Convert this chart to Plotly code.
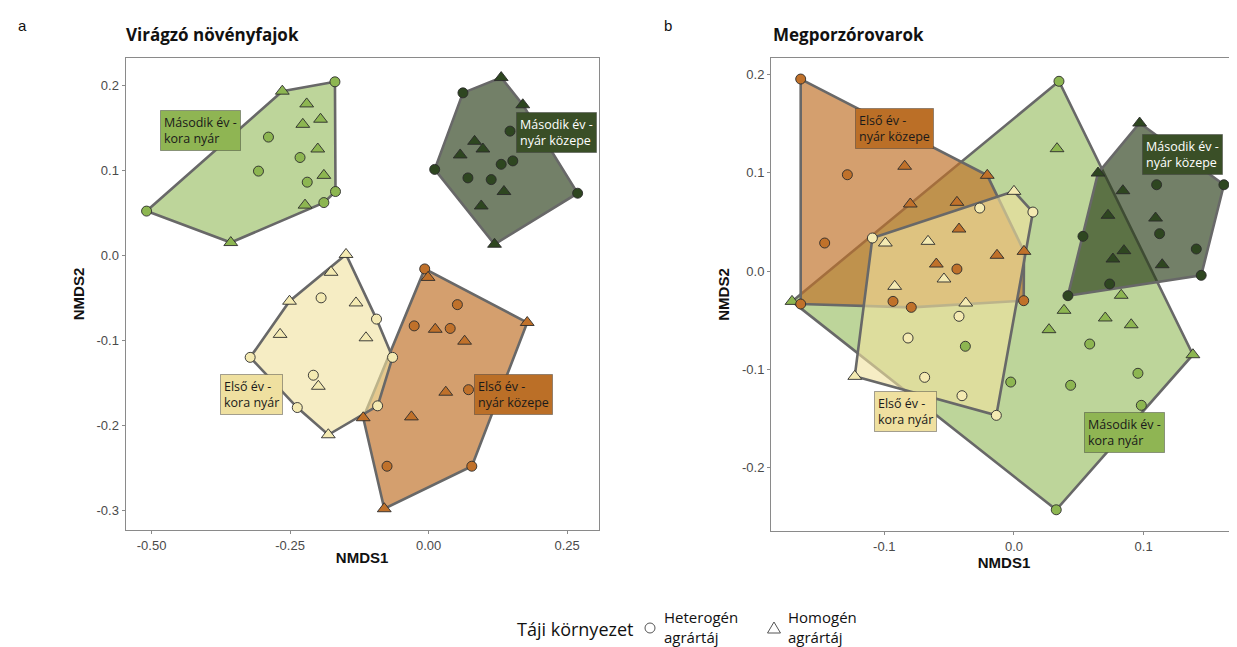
import plotly.graph_objects as go

# ---------------- data ----------------
# Panel a: Virágzó növényfajok
A_M2KN_HET_X = [-0.169, -0.509, -0.168, -0.189, -0.289, -0.307, -0.232, -0.219]
A_M2KN_HET_Y = [0.204, 0.052, 0.075, 0.062, 0.139, 0.099, 0.115, 0.086]
A_M2KN_HOM_X = [-0.264, -0.220, -0.195, -0.227, -0.200, -0.189, -0.223, -0.357]
A_M2KN_HOM_Y = [0.193, 0.178, 0.160, 0.154, 0.125, 0.094, 0.059, 0.015]

A_M2NK_HET_X = [0.062, 0.011, 0.269, 0.147, 0.152, 0.131, 0.071, 0.113]
A_M2NK_HET_Y = [0.191, 0.101, 0.073, 0.146, 0.111, 0.107, 0.091, 0.089]
A_M2NK_HOM_X = [0.131, 0.170, 0.083, 0.098, 0.057, 0.136, 0.095, 0.119]
A_M2NK_HOM_Y = [0.209, 0.177, 0.134, 0.125, 0.118, 0.075, 0.058, 0.013]

A_E1KN_HET_X = [-0.194, -0.322, -0.208, -0.237, -0.094, -0.065, -0.092]
A_E1KN_HET_Y = [-0.050, -0.120, -0.141, -0.179, -0.075, -0.120, -0.177]
A_E1KN_HOM_X = [-0.149, -0.176, -0.251, -0.131, -0.268, -0.113, -0.199, -0.181]
A_E1KN_HOM_Y = [0.001, -0.020, -0.054, -0.056, -0.093, -0.097, -0.154, -0.211]

A_E1NK_HET_X = [-0.007, 0.052, -0.026, 0.039, 0.072, -0.075, 0.078]
A_E1NK_HET_Y = [-0.016, -0.058, -0.083, -0.086, -0.158, -0.248, -0.248]
A_E1NK_HOM_X = [-0.001, 0.178, 0.012, 0.065, 0.031, -0.031, -0.118, -0.080]
A_E1NK_HOM_Y = [-0.026, -0.079, -0.087, -0.101, -0.161, -0.190, -0.191, -0.298]

# Panel b: Megporzórovarok
B_E1NK_HET_X = [-0.1645, -0.1285, -0.146, -0.044, -0.1645, -0.0933, -0.0792, 0.0075]
B_E1NK_HET_Y = [0.1954, 0.098, 0.0285, 0.002, -0.0336, -0.0309, -0.037, -0.0302]
B_E1NK_HOM_X = [-0.0843, -0.0206, -0.080, -0.044, -0.0424, -0.0131, 0.0077, -0.0599]
B_E1NK_HOM_Y = [0.1066, 0.0974, 0.0682, 0.0699, 0.0427, 0.016, 0.020, 0.0071]

B_E1KN_HET_X = [-0.1092, -0.0264, 0.0146, -0.0424, -0.0817, -0.0689, -0.0401, -0.0136]
B_E1KN_HET_Y = [0.0336, 0.0641, 0.060, -0.0461, -0.0682, -0.1082, -0.1269, -0.1469]
B_E1KN_HOM_X = [0.0, -0.0992, -0.0663, -0.054, -0.092, -0.0372, -0.1228]
B_E1KN_HOM_Y = [0.0811, 0.0285, 0.0302, -0.0081, -0.0156, -0.0326, -0.1072]

B_M2NK_HET_X = [0.110, 0.1619, 0.0532, 0.1123, 0.1406, 0.1444, 0.0738, 0.0416]
B_M2NK_HET_Y = [0.0878, 0.0878, 0.0353, 0.038, 0.0224, -0.0044, -0.0132, -0.0251]
B_M2NK_HOM_X = [0.0969, 0.0648, 0.084, 0.0725, 0.1092, 0.0848, 0.0763, 0.1143]
B_M2NK_HOM_Y = [0.1506, 0.0997, 0.0817, 0.0567, 0.0539, 0.0207, 0.0122, 0.0064]

B_M2KN_HET_X = [0.0347, 0.0326, 0.0982, 0.0956, 0.0584, 0.0437, -0.0025, -0.0375]
B_M2KN_HET_Y = [0.1931, -0.243, -0.1367, -0.1041, -0.0743, -0.1163, -0.113, -0.0766]
B_M2KN_HOM_X = [0.0332, 0.0827, 0.0386, 0.027, 0.0704, 0.0904, 0.138, -0.1712]
B_M2KN_HOM_Y = [0.1245, -0.0247, -0.040, -0.0597, -0.0478, -0.0547, -0.0852, -0.0309]

GROUP_NAMES = {
    "M2KN": "Második év -<br>kora nyár",
    "M2NK": "Második év -<br>nyár közepe",
    "E1KN": "Első év -<br>kora nyár",
    "E1NK": "Első év -<br>nyár közepe",
}
LEGEND_TITLE = "Táji környezet"
LEGEND_ITEMS = ["Heterogén<br>agrártáj", "Homogén<br>agrártáj"]

A_TICKS_X = [-0.50, -0.25, 0.00, 0.25]
A_TICKTEXT_X = ["-0.50", "-0.25", "0.00", "0.25"]
A_TICKS_Y = [0.2, 0.1, 0.0, -0.1, -0.2, -0.3]
A_TICKTEXT_Y = ["0.2", "0.1", "0.0", "-0.1", "-0.2", "-0.3"]
B_TICKS_X = [-0.1, 0.0, 0.1]
B_TICKTEXT_X = ["-0.1", "0.0", "0.1"]
B_TICKS_Y = [0.2, 0.1, 0.0, -0.1, -0.2]
B_TICKTEXT_Y = ["0.2", "0.1", "0.0", "-0.1", "-0.2"]

# ---------------- styles ----------------
MARKER = {"M2KN": "#8db651", "M2NK": "#2e4620", "E1KN": "#f4eab2", "E1NK": "#c0712a"}
FILL = {"M2KN": "rgba(141,182,81,0.58)", "M2NK": "rgba(42,62,26,0.66)",
        "E1KN": "rgba(240,226,160,0.62)", "E1NK": "rgba(192,113,42,0.68)"}
LABEL_BG = {"M2KN": "#8fb553", "M2NK": "#3a4f27", "E1KN": "#efe0a0", "E1NK": "#bb6f27"}
LABEL_FG = {"M2KN": "#1a1a1a", "M2NK": "#ffffff", "E1KN": "#1a1a1a", "E1NK": "#1a1a1a"}
DRAW_ORDER = ["M2KN", "E1NK", "E1KN", "M2NK"]

# label positions (data coords of box centres)
A_LABEL_POS = {"M2KN": (-0.412, 0.1466), "M2NK": (0.2306, 0.1439),
               "E1KN": (-0.320, -0.1632), "E1NK": (0.1537, -0.164)}
B_LABEL_POS = {"E1NK": (-0.0925, 0.1452), "M2NK": (0.1297, 0.1184),
               "E1KN": (-0.084, -0.1433), "M2KN": (0.0852, -0.1647)}

panel_a = {
    "M2KN": (A_M2KN_HET_X, A_M2KN_HET_Y, A_M2KN_HOM_X, A_M2KN_HOM_Y),
    "M2NK": (A_M2NK_HET_X, A_M2NK_HET_Y, A_M2NK_HOM_X, A_M2NK_HOM_Y),
    "E1KN": (A_E1KN_HET_X, A_E1KN_HET_Y, A_E1KN_HOM_X, A_E1KN_HOM_Y),
    "E1NK": (A_E1NK_HET_X, A_E1NK_HET_Y, A_E1NK_HOM_X, A_E1NK_HOM_Y),
}
panel_b = {
    "M2KN": (B_M2KN_HET_X, B_M2KN_HET_Y, B_M2KN_HOM_X, B_M2KN_HOM_Y),
    "M2NK": (B_M2NK_HET_X, B_M2NK_HET_Y, B_M2NK_HOM_X, B_M2NK_HOM_Y),
    "E1KN": (B_E1KN_HET_X, B_E1KN_HET_Y, B_E1KN_HOM_X, B_E1KN_HOM_Y),
    "E1NK": (B_E1NK_HET_X, B_E1NK_HET_Y, B_E1NK_HOM_X, B_E1NK_HOM_Y),
}

W, H = 1237, 647


def px(xp):
    return xp / W


def py(yp):
    return 1 - yp / H


def convex_hull(xs, ys):
    pts = sorted(set(zip(xs, ys)))
    if len(pts) <= 2:
        return pts

    def cross(o, a, b):
        return (a[0] - o[0]) * (b[1] - o[1]) - (a[1] - o[1]) * (b[0] - o[0])

    lower, upper = [], []
    for p in pts:
        while len(lower) >= 2 and cross(lower[-2], lower[-1], p) <= 0:
            lower.pop()
        lower.append(p)
    for p in reversed(pts):
        while len(upper) >= 2 and cross(upper[-2], upper[-1], p) <= 0:
            upper.pop()
        upper.append(p)
    return lower[:-1] + upper[:-1]


fig = go.Figure()


def add_panel(panel, xref, yref):
    for g in DRAW_ORDER:
        hx, hy, tx, ty = panel[g]
        hull = convex_hull(list(hx) + list(tx), list(hy) + list(ty))
        hx_ = [p[0] for p in hull] + [hull[0][0]]
        hy_ = [p[1] for p in hull] + [hull[0][1]]
        fig.add_trace(go.Scatter(x=hx_, y=hy_, mode="lines", fill="toself",
                                 fillcolor=FILL[g],
                                 line=dict(color="#686868", width=2.6),
                                 xaxis=xref, yaxis=yref, showlegend=False,
                                 hoverinfo="skip"))
    for g in DRAW_ORDER:
        hx, hy, tx, ty = panel[g]
        fig.add_trace(go.Scatter(x=hx, y=hy, mode="markers",
                                 marker=dict(symbol="circle", size=10, color=MARKER[g],
                                             line=dict(color="#2b2b2b", width=0.9)),
                                 xaxis=xref, yaxis=yref, showlegend=False))
        fig.add_trace(go.Scatter(x=tx, y=ty, mode="markers",
                                 marker=dict(symbol="triangle-up", size=12, color=MARKER[g],
                                             line=dict(color="#2b2b2b", width=0.9)),
                                 xaxis=xref, yaxis=yref, showlegend=False))


add_panel(panel_a, "x", "y")
add_panel(panel_b, "x2", "y2")

annotations = []
for pos, xr, yr in ((A_LABEL_POS, "x", "y"), (B_LABEL_POS, "x2", "y2")):
    for g, (lx, ly) in pos.items():
        annotations.append(dict(
            x=lx, y=ly, xref=xr, yref=yr, text=GROUP_NAMES[g], showarrow=False,
            align="left", bgcolor=LABEL_BG[g], bordercolor="rgba(60,60,60,0.45)",
            borderwidth=1, borderpad=3,
            font=dict(family="Open Sans, Noto Sans, sans-serif", size=12.5, color=LABEL_FG[g])))

TITLE_FONT = dict(family="Open Sans, Noto Sans, sans-serif", size=17, color="#111")
LETTER_FONT = dict(family="Liberation Sans, Arial", size=15, color="#111")
annotations += [
    dict(x=px(15), y=py(18), xref="paper", yref="paper", text="a", showarrow=False,
         xanchor="center", yanchor="middle", font=LETTER_FONT),
    dict(x=px(660), y=py(18), xref="paper", yref="paper", text="b", showarrow=False,
         xanchor="center", yanchor="middle", font=LETTER_FONT),
    dict(x=px(116), y=py(26), xref="paper", yref="paper", text="<b>Virágzó növényfajok</b>",
         showarrow=False, xanchor="left", yanchor="middle", font=TITLE_FONT),
    dict(x=px(763), y=py(26), xref="paper", yref="paper", text="<b>Megporzórovarok</b>",
         showarrow=False, xanchor="left", yanchor="middle", font=TITLE_FONT),
]

# legend (drawn manually to match the ggplot layout)
LEG_FONT = dict(family="Open Sans, Noto Sans, sans-serif", size=15, color="#111")
LEG_Y = 619
annotations += [
    dict(x=px(507), y=py(LEG_Y + 2), xref="paper", yref="paper", text=LEGEND_TITLE, showarrow=False,
         xanchor="left", yanchor="middle",
         font=dict(family="Open Sans, Noto Sans, sans-serif", size=18, color="#111")),
    dict(x=px(654), y=py(LEG_Y), xref="paper", yref="paper", text=LEGEND_ITEMS[0], showarrow=False,
         xanchor="left", yanchor="middle", align="left", font=LEG_FONT),
    dict(x=px(778), y=py(LEG_Y), xref="paper", yref="paper", text=LEGEND_ITEMS[1], showarrow=False,
         xanchor="left", yanchor="middle", align="left", font=LEG_FONT),
]
shapes = [
    dict(type="circle", xref="paper", yref="paper", x0=px(637), x1=px(647),
         y0=py(LEG_Y + 6), y1=py(LEG_Y - 4), line=dict(color="#555", width=1)),
    dict(type="path", xref="paper", yref="paper",
         path="M {:.5f},{:.5f} L {:.5f},{:.5f} L {:.5f},{:.5f} Z".format(
             px(759.5), py(LEG_Y + 6), px(772.5), py(LEG_Y + 6), px(766), py(LEG_Y - 5)),
         line=dict(color="#555", width=1)),
]

tickfont = dict(family="Liberation Sans Narrow, Arial Narrow, Liberation Sans, Arial", size=13, color="#4a4a4a")
titlefont = dict(family="Liberation Sans, Arial", size=15, color="#111")
axis_common = dict(showgrid=False, zeroline=False, showline=True, linecolor="#8a8a8a", linewidth=1,
                   mirror=True, ticks="outside", ticklen=3, tickcolor="#8a8a8a", tickfont=tickfont)

fig.update_layout(
    width=W, height=H,
    margin=dict(l=0, r=0, t=0, b=0),
    paper_bgcolor="white", plot_bgcolor="white",
    xaxis=dict(domain=[px(117.5), px(590.7)], range=[-0.547, 0.307],
               tickvals=A_TICKS_X, ticktext=A_TICKTEXT_X,
               title=dict(text="<b>NMDS1</b>", font=titlefont, standoff=0), **axis_common),
    yaxis=dict(domain=[py(522), py(50)], range=[-0.323, 0.232],
               tickvals=A_TICKS_Y, ticktext=A_TICKTEXT_Y,
               title=dict(text="<b>NMDS2</b>", font=titlefont, standoff=8), **axis_common),
    xaxis2=dict(domain=[px(763), px(1229)], range=[-0.1874, 0.1720], anchor="y2",
                tickvals=B_TICKS_X, ticktext=B_TICKTEXT_X,
                title=dict(text="<b>NMDS1</b>", font=titlefont, standoff=0), **axis_common),
    yaxis2=dict(domain=[py(523), py(50)], range=[-0.2646, 0.2168], anchor="x2",
                tickvals=B_TICKS_Y, ticktext=B_TICKTEXT_Y,
                title=dict(text="<b>NMDS2</b>", font=titlefont, standoff=8), **axis_common),
    annotations=annotations,
    shapes=shapes,
    showlegend=False,
)

fig.write_html("out.html")
